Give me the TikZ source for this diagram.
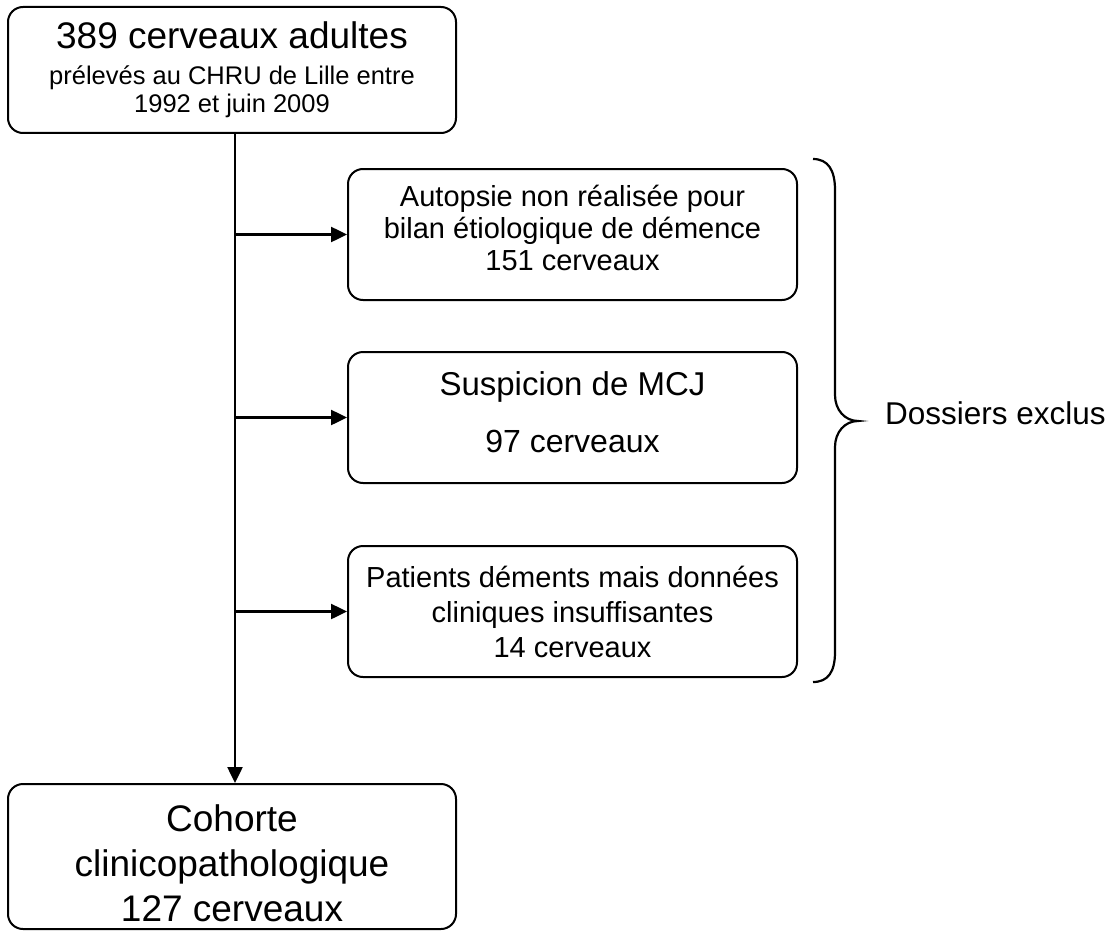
\documentclass[tikz,border=0pt]{standalone}
\usepackage{fontspec}
\setmainfont{Liberation Sans}
\usetikzlibrary{arrows.meta}
\begin{document}
\begin{tikzpicture}[x=1pt,y=-1pt,
  boxstyle/.style={draw, line width=2pt, rounded corners=15pt, align=center, inner sep=0pt, text=black},
  conn/.style={line width=2.5pt},
  arr/.style={conn, -{Triangle[length=16pt,width=15pt]}},
  bracestyle/.style={line width=2.2pt}]
\useasboundingbox (0,0) rectangle (1113,931);
\coordinate (spine) at (235,0);
% top box
\node[boxstyle, minimum width=448pt, minimum height=126pt, font=\fontsize{25.5}{28}\selectfont] (top) at (232,70)
  {{\fontsize{37}{40}\selectfont 389 cerveaux adultes}\\[8pt]prélevés au CHRU de Lille entre\\1992 et juin 2009};
% excluded boxes
\node[boxstyle, minimum width=449pt, minimum height=131pt, font=\fontsize{29}{32}\selectfont] (b1) at (572.5,234.5)
  {Autopsie non réalisée pour\\bilan étiologique de démence\\151 cerveaux\rule[-14pt]{0pt}{14pt}};
\node[boxstyle, minimum width=449pt, minimum height=131pt, font=\fontsize{32}{34}\selectfont] (b2) at (572.5,417.5)
  {{\fontsize{33}{34}\selectfont Suspicion de MCJ}\\[23pt]97 cerveaux\rule[-10pt]{0pt}{10pt}};
\node[boxstyle, minimum width=449pt, minimum height=131pt, font=\fontsize{29}{35}\selectfont] (b3) at (572.5,611.5)
  {Patients déments mais données\\cliniques insuffisantes\\14 cerveaux};
% bottom box
\node[boxstyle, minimum width=448pt, minimum height=145pt, font=\fontsize{37}{45}\selectfont] (bot) at (232,856.5)
  {\rule{0pt}{41pt}Cohorte\\clinicopathologique\\127 cerveaux};
% connectors
\draw[arr] (top.south -| spine) -- (bot.north -| spine);
\draw[arr] (b1.west -| spine) -- (b1.west);
\draw[arr] (b2.west -| spine) -- (b2.west);
\draw[arr] (b3.west -| spine) -- (b3.west);
% brace
\draw[bracestyle] (813,159) .. controls (828,159) and (835,170) .. (835,190) -- (835,395)
  .. controls (835,410) and (845,421) .. (858,421)
  .. controls (845,421) and (835,432) .. (835,447) -- (835,652)
  .. controls (835,672) and (828,682) .. (813,682);
\node[anchor=base west, font=\fontsize{31.5}{34}\selectfont, inner sep=0pt] (excl) at (885,424) {Dossiers exclus};
\end{tikzpicture}
\end{document}
